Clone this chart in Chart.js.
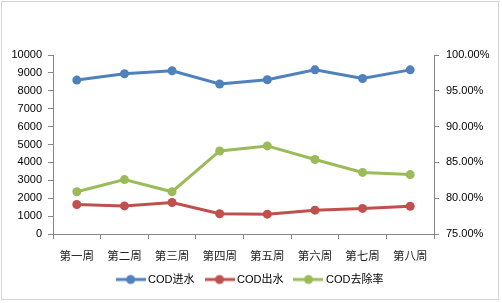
<!DOCTYPE html>
<html>
<head>
<meta charset="utf-8">
<script src="https://cdn.jsdelivr.net/npm/chart.js@4.4.0/dist/chart.umd.min.js"></script>
<style>
  html, body { margin: 0; padding: 0; background: #fff; }
  #frame { position: absolute; left: 1px; top: 1px; width: 496px; height: 297px; border: 1px solid #d4d4d4; }
  #wrap { position: absolute; left: 0; top: 0; width: 502px; height: 303px; }
</style>
</head>
<body>
<div id="frame"></div>
<div id="wrap"><canvas id="codChart" width="502" height="303"></canvas></div>
<script>
const weeks = ["第一周", "第二周", "第三周", "第四周", "第五周", "第六周", "第七周", "第八周"];
const codIn = [8600, 8950, 9120, 8380, 8620, 9170, 8690, 9170];
const codOut = [1650, 1570, 1760, 1130, 1110, 1330, 1430, 1550];
const removalRate = [0.809, 0.826, 0.809, 0.866, 0.873, 0.854, 0.836, 0.833];

const BLUE = "#4F81BD";
const RED = "#C0504D";
const GREEN = "#9BBB59";
const AXIS = "#868686";
const FONT = '"Liberation Sans", Arial, "Noto Sans CJK SC", sans-serif';

// legend marker: short line with a dot in the middle
function legendMarker(color) {
  const c = document.createElement("canvas");
  c.width = 30;
  c.height = 12;
  const g = c.getContext("2d");
  g.strokeStyle = color;
  g.lineWidth = 3;
  g.beginPath();
  g.moveTo(0, 6);
  g.lineTo(30, 6);
  g.stroke();
  g.fillStyle = color;
  g.beginPath();
  g.arc(15, 6, 4.5, 0, Math.PI * 2);
  g.fill();
  return c;
}

function lineSet(label, data, color, axis) {
  return {
    label,
    data,
    yAxisID: axis,
    borderColor: color,
    backgroundColor: color,
    borderWidth: 3,
    pointRadius: 4.5,
    pointHoverRadius: 4.5,
    pointBorderWidth: 0,
    tension: 0,
    marker: legendMarker(color)
  };
}

const ctx = document.getElementById("codChart").getContext("2d");
new Chart(ctx, {
  type: "line",
  data: {
    labels: weeks,
    datasets: [
      lineSet("COD进水", codIn, BLUE, "y"),
      lineSet("COD出水", codOut, RED, "y"),
      lineSet("COD去除率", removalRate, GREEN, "y1")
    ]
  },
  options: {
    responsive: false,
    animation: false,
    layout: { padding: { top: 55, bottom: 8, left: 0, right: 0 } },
    plugins: {
      tooltip: { enabled: false },
      legend: {
        position: "bottom",
        labels: {
          usePointStyle: true,
          pointStyleWidth: 24,
          padding: 13,
          color: "#000",
          font: { family: FONT, size: 11 },
          generateLabels(chart) {
            return chart.data.datasets.map((ds, i) => ({
              text: ds.label,
              pointStyle: ds.marker,
              fillStyle: ds.borderColor,
              strokeStyle: ds.borderColor,
              lineWidth: 0,
              hidden: false,
              datasetIndex: i,
              fontColor: "#000"
            }));
          }
        }
      }
    },
    scales: {
      x: {
        offset: true,
        grid: { offset: true, drawOnChartArea: false, drawTicks: true, tickLength: 5, color: AXIS },
        border: { color: AXIS, width: 1 },
        ticks: { color: "#222", padding: 10, maxRotation: 0, font: { family: '"Noto Sans CJK SC", sans-serif', size: 11.5 } },
        afterFit(scale) { scale.height = 27; }
      },
      y: {
        position: "left",
        min: 0,
        max: 10000,
        grid: { drawOnChartArea: false, drawTicks: true, tickLength: 5, color: AXIS },
        border: { color: AXIS, width: 1 },
        ticks: { stepSize: 1000, color: "#000", padding: 6, font: { family: FONT, size: 11 }, callback: v => String(v) },
        afterFit(scale) { scale.width = 53; }
      },
      y1: {
        position: "right",
        min: 0.75,
        max: 1.0,
        grid: { drawOnChartArea: false, drawTicks: true, tickLength: 5, color: AXIS },
        border: { color: AXIS, width: 1 },
        ticks: {
          stepSize: 0.05,
          color: "#000",
          padding: 7,
          font: { family: FONT, size: 11 },
          callback: v => (v * 100).toFixed(2) + "%"
        },
        afterFit(scale) { scale.width = 68; }
      }
    }
  }
});
</script>
</body>
</html>
